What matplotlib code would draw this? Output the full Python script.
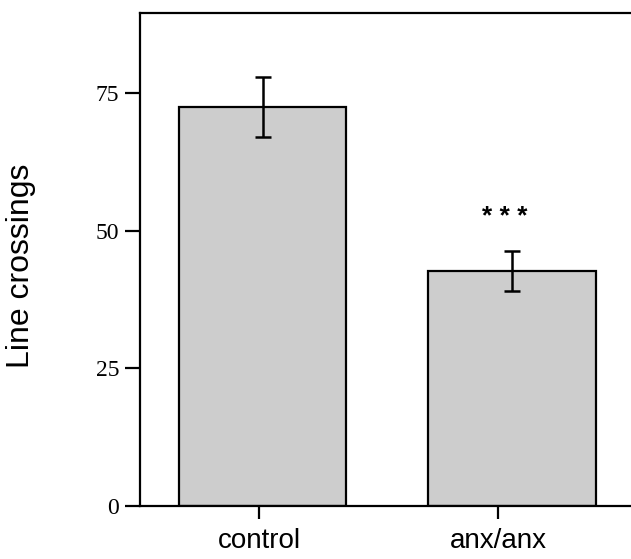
import matplotlib
matplotlib.use("Agg")
import matplotlib.pyplot as plt

groups = ["control", "anx/anx"]
means = [72.5, 42.7]
sems = [5.4, 3.7]
yticks = [0, 25, 50, 75]
signif = "* * *"

W, H = 631, 559
fig = plt.figure(figsize=(W / 100, H / 100), dpi=100)
ax = fig.add_axes([140 / W, 53 / H, (W - 140 + 2) / W, 493 / H])

pos = [0, 1]
ax.bar(pos, means, width=0.67, color="#cdcdcd", edgecolor="black", linewidth=1.6, zorder=2)
ax.errorbar(pos, means, yerr=sems, fmt="none", ecolor="black", elinewidth=1.8,
            capsize=6, capthick=1.8, zorder=3)
ax.text(pos[1] - 0.028, 52.9, signif, ha="center", va="center_baseline",
        fontsize=19, fontweight="bold", family="Liberation Sans")

ax.set_xlim(-0.491, 1.485)
ax.set_ylim(0, 89.6)
ax.set_yticks(yticks)
ax.set_yticklabels([str(v) for v in yticks], family="Liberation Serif", fontsize=17)
ax.set_xticks([pos[0] - 0.014, pos[1] - 0.056])
ax.set_xticklabels(groups, family="Liberation Sans", fontsize=20)
ax.tick_params(axis="y", length=11, width=1.6, pad=4)
ax.tick_params(axis="x", length=9, width=1.6, pad=7)
for s in ["left", "bottom", "top"]:
    ax.spines[s].set_linewidth(1.6)
ax.spines["right"].set_visible(False)
ax.set_ylabel("Line crossings", family="Liberation Sans", fontsize=23)
ax.yaxis.set_label_coords(-(140 - 36) / 493, 0.5 - 6.5 / 493)

fig.savefig("out.png", dpi=100)
